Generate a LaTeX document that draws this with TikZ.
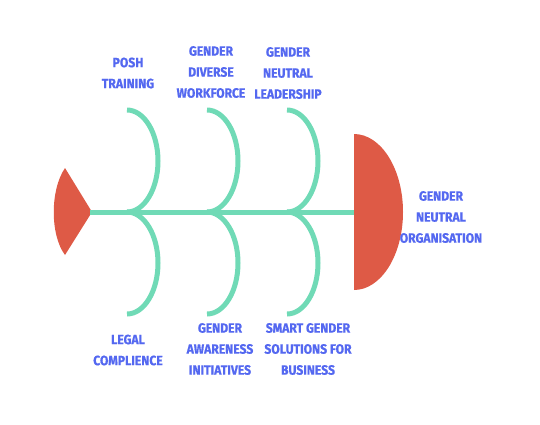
\documentclass[tikz,border=0pt]{standalone}
\usepackage{fontspec}
\setmainfont{Fira Sans}[FakeStretch=0.9, BoldFeatures={FakeBold=0.8}]
\usepackage{tikz}
\usetikzlibrary{positioning,calc}
\definecolor{fishred}{RGB}{222,90,70}
\definecolor{boneteal}{RGB}{112,218,182}
\definecolor{labelblue}{RGB}{84,104,240}
\tikzset{
    bone/.style={boneteal, line width=5pt, line cap=round},
    cause/.style={labelblue, align=center, font=\bfseries\fontsize{13.5}{21}\selectfont}
}

\begin{document}
\begin{tikzpicture}[x=1pt, y=-1pt]
        \useasboundingbox (0,0) rectangle (540,424);
        % tail and head
        \fill[fishred] (65,168) -- (92,212) -- (65,255) .. controls (50,235) and (50,190) .. cycle;
        \coordinate (tail) at (90,212);
        \coordinate (head) at (356,212);
        \draw[bone, line cap=butt] (tail) -- (head);
        \fill[fishred] (354,134) arc[start angle=-90, end angle=90, x radius=49, y radius=78] -- cycle;
        % bones
        \foreach \bx in {127,207,287} {
            \draw[bone, line cap=butt] (\bx,110) arc[start angle=-90, end angle=90, x radius=31, y radius=51];
            \draw[bone, line cap=butt] (\bx,314) arc[start angle=90, end angle=-90, x radius=31, y radius=51];
        }
        % labels
        \node[cause] (posh) at (128,73) {POSH\\TRAINING};
        \node[cause] (diverse) at (211,72) {GENDER\\DIVERSE\\WORKFORCE};
        \node[cause] (leader) at (288,73) {GENDER\\NEUTRAL\\LEADERSHIP};
        \node[cause] (legal) at (128,350) {LEGAL\\COMPLIENCE};
        \node[cause] (aware) at (220,349) {GENDER\\AWARENESS\\INITIATIVES};
        \node[cause] (smart) at (308,349) {SMART GENDER\\SOLUTIONS FOR\\BUSINESS};
        \node[cause] (org) at (441,217) {GENDER\\NEUTRAL\\ORGANISATION};
    \end{tikzpicture}
\end{document}
